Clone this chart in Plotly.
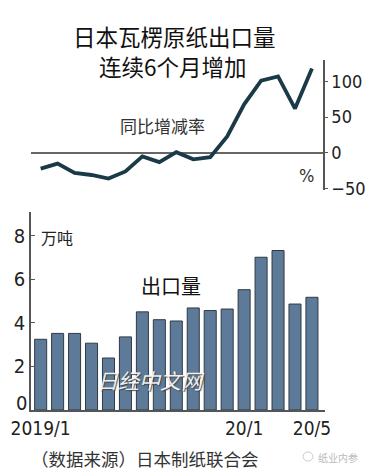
import plotly.graph_objects as go

months = ["2019/1","2019/2","2019/3","2019/4","2019/5","2019/6","2019/7","2019/8","2019/9",
          "2019/10","2019/11","2019/12","2020/1","2020/2","2020/3","2020/4","2020/5"]
exports = [3.25, 3.52, 3.52, 3.07, 2.39, 3.36, 4.51, 4.15, 4.09, 4.69, 4.57, 4.64, 5.53, 7.02, 7.33, 4.87, 5.18]
yoy = [-22, -15, -28, -31, -36, -26, -5, -13, 1, -9, -6, 23, 68, 101, 107, 62, 118]
x_tick_idx = [0, 12, 16]
x_tick_text = ["2019/1", "20/1", "20/5"]
bar_ticks = [0, 2, 4, 6, 8]
bar_tick_text = ["", "2", "4", "6", "8"]
line_ticks = [-50, 0, 50, 100]

W, H = 383, 474
xs = list(range(len(months)))

NUM = "Liberation Sans Narrow, DejaVu Sans Condensed, Arial Narrow, sans-serif"
CJK = "Noto Sans CJK SC, sans-serif"

fig = go.Figure()
fig.add_trace(go.Bar(x=xs, y=exports, xaxis="x", yaxis="y", width=0.71,
                     marker=dict(color="#5d7b98", line=dict(color="#2f3a45", width=1)),
                     hoverinfo="skip"))
fig.add_trace(go.Scatter(x=xs, y=yoy, xaxis="x2", yaxis="y2", mode="lines",
                         line=dict(color="#1b3a48", width=3.8), hoverinfo="skip"))

def px(x): return x / W
def py(y): return 1 - y / H

fig.update_layout(
    width=W, height=H, margin=dict(l=0, r=0, t=0, b=0, autoexpand=False),
    paper_bgcolor="white", plot_bgcolor="white", showlegend=False,
    xaxis=dict(domain=[px(31), px(325)], range=[-0.57, 16.77], anchor="y",
               automargin=False,
               tickmode="array", tickvals=x_tick_idx, ticktext=x_tick_text,
               showline=True, linecolor="#555", linewidth=1.5, ticks="",
               showgrid=False, zeroline=False, ticklabelstandoff=0,
               tickfont=dict(family=NUM, size=19, color="#222")),
    yaxis=dict(domain=[py(410), py(212)], range=[0, 9.1], anchor="x",
               automargin=False,
               tickmode="array", tickvals=bar_ticks, ticktext=bar_tick_text,
               showline=True, linecolor="#555", linewidth=1.5,
               ticks="inside", ticklen=4, tickcolor="#555",
               showgrid=False, zeroline=False, ticklabelstandoff=0,
               tickfont=dict(family=NUM, size=20, color="#222")),
    xaxis2=dict(domain=[px(31), px(323)], range=[-0.57, 16.65], anchor="y2",
                visible=False, automargin=False),
    yaxis2=dict(domain=[py(190), py(60)], range=[-52, 130], anchor="x2", side="right",
                automargin=False,
                tickmode="array", tickvals=line_ticks,
                showline=True, linecolor="#555", linewidth=1.5,
                ticks="outside", ticklen=3, tickcolor="#555",
                showgrid=False, zeroline=True, zerolinecolor="#666", zerolinewidth=1.5,
                tickfont=dict(family=NUM, size=18, color="#222")),
)

ann = [
    dict(text="日本瓦楞原纸出口量", x=px(174), y=py(36), size=22.5, color="#111"),
    dict(text="连续6个月增加", x=px(173), y=py(66), size=22.5, color="#111"),
    dict(text="同比增减率", x=px(162), y=py(126), size=17, color="#333"),
    dict(text="%", x=px(306), y=py(175), size=18, color="#333", family=NUM),
    dict(text="万吨", x=px(57), y=py(237), size=16, color="#222"),
    dict(text="出口量", x=px(171), y=py(285), size=20, color="#111"),
    dict(text="（数据来源）日本制纸联合会", x=px(145), y=py(458), size=17.5, color="#333"),
    dict(text="纸业内参", x=px(338), y=py(457), size=10, color="#bbb"),
]
for a in ann:
    fig.add_annotation(text=a["text"], x=a["x"], y=a["y"], xref="paper", yref="paper",
                       showarrow=False, xanchor="center", yanchor="middle",
                       font=dict(family=a.get("family", CJK), size=a["size"], color=a["color"]))

# zero label of the bar axis sits slightly above its tick, as in the original
fig.add_annotation(text="0", x=px(29), y=py(403), xref="paper", yref="paper",
                   showarrow=False, xanchor="right", yanchor="middle",
                   font=dict(family=NUM, size=20, color="#222"))

fig.add_annotation(text="<i>日经中文网</i>", x=px(151), y=py(380), xref="paper", yref="paper",
                   showarrow=False, xanchor="center", yanchor="middle",
                   font=dict(family=CJK, size=21, color="rgba(248,248,248,0.95)",
                             shadow="1px 1px 1px #444"))
# small grey logo mark next to the watermark text
fig.add_shape(type="circle", xref="paper", yref="paper",
              x0=px(303), x1=px(313), y0=py(461), y1=py(452),
              line=dict(color="#ccc", width=1))

fig.write_html("out.html", config={"displayModeBar": False},
               post_script="document.body.style.margin='0px';")
